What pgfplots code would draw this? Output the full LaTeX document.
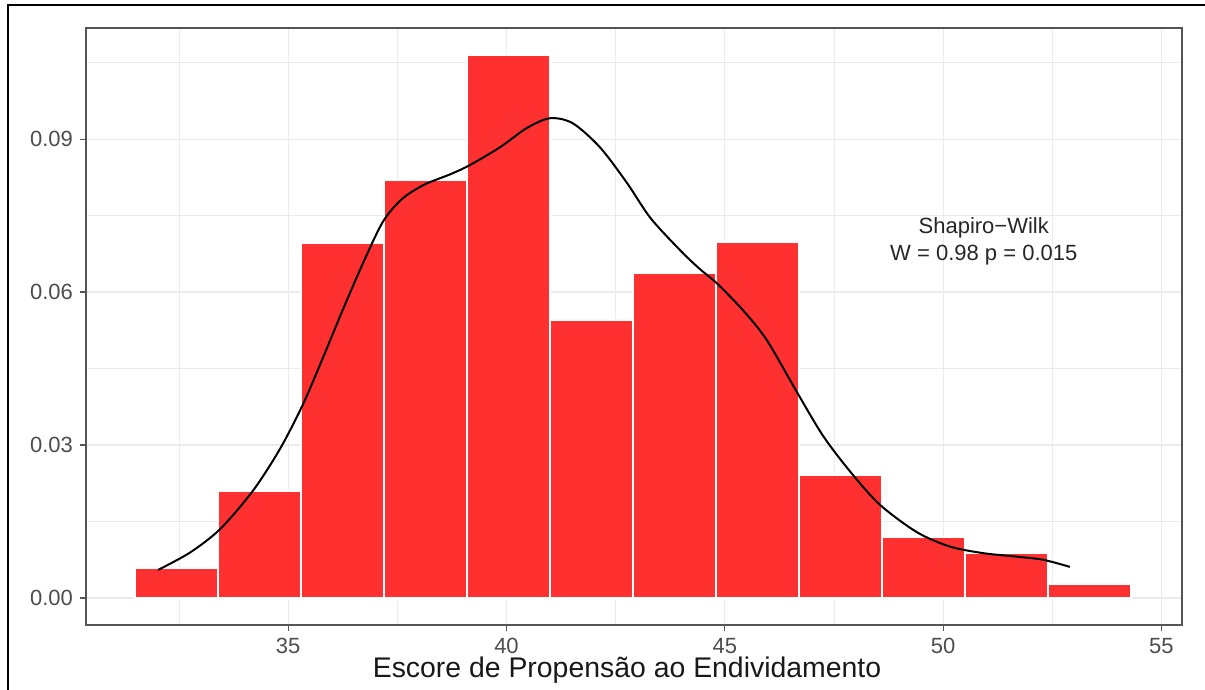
\documentclass[border=0pt]{standalone}
\usepackage{pgfplots}
\pgfplotsset{compat=1.18}
\usepackage{fontspec}
\setmainfont{Liberation Sans}

\definecolor{barred}{RGB}{255,48,48}
\definecolor{gridgrey}{RGB}{235,235,235}
\definecolor{framegrey}{RGB}{85,85,85}
\definecolor{ticktext}{RGB}{77,77,77}

\begin{document}
\begin{tikzpicture}
% page = 1205 x 690 px, 1 px = 0.5pt
\useasboundingbox (0,0) rectangle (602.5pt,345pt);
\draw[line width=1pt] (4pt,0) -- (4pt,342.5pt) -- (602.5pt,342.5pt);

\begin{axis}[
    at={(43pt,32.5pt)}, anchor=south west,
    scale only axis,
    width=548pt, height=298.5pt,
    xmin=30.37, xmax=55.47,
    ymin=-0.0053, ymax=0.1118,
    xtick={35,40,45,50,55},
    minor xtick={32.5,37.5,42.5,47.5,52.5},
    ytick={0,0.03,0.06,0.09},
    minor ytick={0.015,0.045,0.075,0.105},
    yticklabel style={/pgf/number format/.cd, fixed, fixed zerofill, precision=2},
    /pgf/number format/assume math mode=true,
    grid=both,
    major grid style={gridgrey, line width=0.6pt},
    minor grid style={gridgrey, line width=0.35pt},
    tick pos=left,
    tick align=outside,
    major tick length=3pt,
    minor tick length=0pt,
    tick style={framegrey, line width=0.6pt},
    axis line style={framegrey, line width=0.7pt},
    ticklabel style={font=\fontsize{11}{13}\selectfont, text=ticktext},
]
    % histogram (density), bin edges every 1.9
    \addplot[ybar interval, fill=barred, draw=white, line width=1pt]
        coordinates {
            (31.5,0.0059) (33.4,0.0210) (35.3,0.0696) (37.2,0.0820)
            (39.1,0.1065) (41.0,0.0545) (42.9,0.0637) (44.8,0.0698)
            (46.7,0.0241) (48.6,0.0120) (50.5,0.0088) (52.4,0.0027)
            (54.3,0.0027)
        };
    % kernel density
    \addplot[smooth, black, line width=1pt]
        coordinates {
            (32.02,0.0055) (32.75,0.0089) (33.44,0.0135) (34.19,0.0210)
            (34.81,0.0292) (35.34,0.0380) (35.80,0.0472) (36.25,0.0565)
            (36.71,0.0656) (37.17,0.0738) (37.60,0.0782) (38.10,0.0810)
            (38.71,0.0831) (39.16,0.0849) (39.85,0.0884) (40.47,0.0922)
            (41.00,0.0941) (41.52,0.0931) (42.14,0.0884) (42.76,0.0814)
            (43.30,0.0745) (44.00,0.0680) (44.43,0.0645) (44.82,0.0617)
            (45.41,0.0565) (45.96,0.0506) (46.65,0.0404) (47.25,0.0318)
            (47.87,0.0248) (48.55,0.0183) (49.40,0.0129) (50.15,0.0101)
            (50.91,0.0088) (51.69,0.0081) (52.29,0.0075) (52.90,0.0061)
        };
    \node[align=center, font=\fontsize{11}{13.5}\selectfont, text=black!85]
        at (axis cs:50.93,0.0700) {Shapiro−Wilk\\W = 0.98 p = 0.015};
\end{axis}

\node[anchor=base, font=\fontsize{14.2}{16}\selectfont, text=black!90]
    at (313.5pt,6pt) {Escore de Propensão ao Endividamento};
\end{tikzpicture}
\end{document}
